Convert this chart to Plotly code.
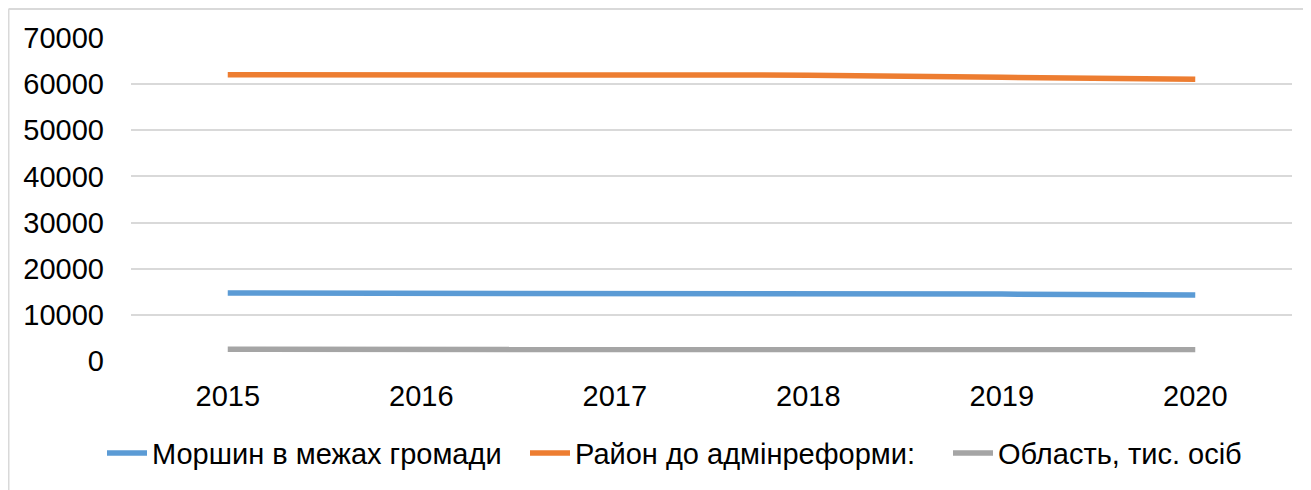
import plotly.graph_objects as go

years = ["2015", "2016", "2017", "2018", "2019", "2020"]
morshyn = [14720, 14700, 14650, 14620, 14500, 14290]
raion = [62030, 62000, 61950, 61950, 61500, 61040]
oblast = [2530, 2520, 2510, 2500, 2490, 2480]
names = ["Моршин в межах громади", "Район до адмінреформи:", "Область, тис. осіб"]
colors = ["#5B9BD5", "#ED7D31", "#A5A5A5"]
y_ticks = [0, 10000, 20000, 30000, 40000, 50000, 60000, 70000]

fig = go.Figure()
for name, vals, c in zip(names, [morshyn, raion, oblast], colors):
    fig.add_trace(go.Scatter(x=years, y=vals, name=name, mode="lines",
                             line=dict(color=c, width=5.5)))

# page body has an 8px margin; the figure is sized to fit the window
W, H = 1303, 482
L, R, T, B = 123, 19, 30, 129
pw, ph = W - L - R, H - T - B

fig.update_layout(
    width=W, height=H,
    margin=dict(l=L, r=R, t=T, b=B, autoexpand=False),
    paper_bgcolor="white", plot_bgcolor="white",
    font=dict(family="Liberation Sans, Arial, sans-serif", size=29, color="#000000"),
    xaxis=dict(type="category", showgrid=False, showline=False, ticks="",
               range=[-0.5, 5.5], ticklabelstandoff=15),
    yaxis=dict(range=[0, 70000], tickvals=y_ticks, showgrid=True,
               gridcolor="#D9D9D9", gridwidth=2, zeroline=False,
               ticklabelstandoff=26, tickformat="d"),
    legend=dict(orientation="h", x=(94 - L) / pw, xanchor="left", y=-0.285, yanchor="middle",
                font=dict(size=29), itemwidth=40, tracegroupgap=0,
                entrywidth=368, entrywidthmode="pixels",
                bgcolor="rgba(0,0,0,0)"),
    showlegend=True,
    shapes=[
        dict(type="line", xref="paper", yref="paper",
             x0=(0.5 - L) / pw, x1=(W + 20 - L) / pw,
             y0=(H - B - 1) / ph, y1=(H - B - 1) / ph,
             line=dict(color="#D9D9D9", width=2)),
        dict(type="line", xref="paper", yref="paper",
             x0=(0.5 - L) / pw, x1=(0.5 - L) / pw,
             y0=(H - B - 1) / ph, y1=-1.0,
             line=dict(color="#D9D9D9", width=2)),
    ],
)

fig.write_html("out.html")
